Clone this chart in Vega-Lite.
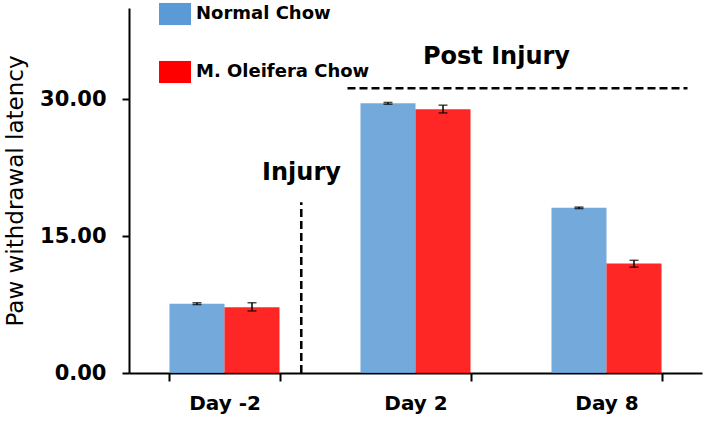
{
  "$schema": "https://vega.github.io/schema/vega-lite/v6.json",
  "width": 573,
  "height": 365,
  "autosize": "none",
  "padding": {"left": 129, "top": 8, "right": 4, "bottom": 53},
  "background": "white",
  "config": {
    "view": {"stroke": null},
    "font": "DejaVu Sans",
    "axis": {"grid": false, "domainColor": "black", "tickColor": "black", "labelColor": "black", "titleColor": "black", "labelFont": "DejaVu Sans", "titleFont": "DejaVu Sans"}
  },
  "datasets": {
    "bars": [
      {"day": "Day -2", "diet": "Normal Chow", "value": 7.6, "lo": 7.5, "hi": 7.7},
      {"day": "Day -2", "diet": "M. Oleifera Chow", "value": 7.2, "lo": 6.8, "hi": 7.7},
      {"day": "Day 2", "diet": "Normal Chow", "value": 29.55, "lo": 29.45, "hi": 29.65},
      {"day": "Day 2", "diet": "M. Oleifera Chow", "value": 28.9, "lo": 28.5, "hi": 29.35},
      {"day": "Day 8", "diet": "Normal Chow", "value": 18.1, "lo": 18.02, "hi": 18.18},
      {"day": "Day 8", "diet": "M. Oleifera Chow", "value": 12.0, "lo": 11.6, "hi": 12.35}
    ],
    "vlines": [{"xq": 0.902, "y": 0, "y2": 18.7}],
    "hlines": [{"xq": 1.144, "xq2": 2.924, "y": 31.2}],
    "labels": [
      {"xq": 0.903, "y": 21.1, "label": "Injury"},
      {"xq": 1.924, "y": 33.85, "label": "Post Injury"}
    ]
  },
  "layer": [
    {
      "data": {"name": "bars"},
      "encoding": {
        "x": {
          "field": "day", "type": "nominal", "sort": ["Day -2", "Day 2", "Day 8"],
          "scale": {"paddingInner": 0.424, "paddingOuter": 0.212},
          "axis": {"title": null, "labelAngle": 0, "labelFontSize": 20, "labelFontWeight": "bold", "tickBand": "extent", "tickSize": 8, "tickWidth": 2, "domainWidth": 2, "labelPadding": 12}
        },
        "xOffset": {"field": "diet", "type": "nominal", "sort": ["Normal Chow", "M. Oleifera Chow"], "scale": {"paddingInner": 0, "paddingOuter": 0}}
      },
      "layer": [
        {
          "mark": {"type": "bar", "fillOpacity": 0.85},
          "encoding": {
            "y": {
              "field": "value", "type": "quantitative",
              "scale": {"domain": [0, 40], "nice": false},
              "axis": {"title": "Paw withdrawal latency", "values": [0, 15, 30], "format": ".2f", "labelFontSize": 21, "labelFontWeight": "bold", "titleFontSize": 23, "titleFontWeight": "normal", "tickSize": 7, "tickWidth": 2, "domainWidth": 2, "labelPadding": 16, "titlePadding": 12}
            },
            "color": {
              "field": "diet", "type": "nominal", "sort": ["Normal Chow", "M. Oleifera Chow"],
              "scale": {"range": ["#5b9bd5", "#ff0000"]},
              "legend": {
                "title": null, "orient": "none", "legendX": 30, "legendY": -10,
                "symbolType": "M-1,-0.69L1,-0.69L1,0.69L-1,0.69Z", "symbolSize": 1024, "symbolStrokeWidth": 0, "symbolOpacity": 1,
                "labelFontSize": 18, "labelFontWeight": "bold", "labelColor": "black", "labelOffset": 5,
                "rowPadding": 30, "labelLimit": 300
              }
            }
          }
        },
        {
          "mark": {"type": "rule", "color": "black", "strokeWidth": 1.5},
          "encoding": {
            "y": {"field": "lo", "type": "quantitative"},
            "y2": {"field": "hi"}
          }
        },
        {
          "mark": {"type": "tick", "color": "black", "orient": "horizontal", "size": 9, "thickness": 1.5},
          "encoding": {"y": {"field": "lo", "type": "quantitative"}}
        },
        {
          "mark": {"type": "tick", "color": "black", "orient": "horizontal", "size": 9, "thickness": 1.5},
          "encoding": {"y": {"field": "hi", "type": "quantitative"}}
        }
      ]
    },
    {
      "layer": [
        {
          "data": {"name": "vlines"},
          "mark": {"type": "rule", "color": "black", "strokeWidth": 2.5, "strokeDash": [8, 4]},
          "encoding": {
            "x": {"field": "xq", "type": "quantitative", "scale": {"domain": [0, 3], "nice": false, "zero": false}, "axis": null},
            "y": {"field": "y", "type": "quantitative"},
            "y2": {"field": "y2"}
          }
        },
        {
          "data": {"name": "hlines"},
          "mark": {"type": "rule", "color": "black", "strokeWidth": 2.5, "strokeDash": [8, 4]},
          "encoding": {
            "x": {"field": "xq", "type": "quantitative"},
            "x2": {"field": "xq2"},
            "y": {"field": "y", "type": "quantitative"}
          }
        },
        {
          "data": {"name": "labels"},
          "mark": {"type": "text", "fontSize": 24, "fontWeight": "bold", "color": "black", "align": "center", "baseline": "alphabetic"},
          "encoding": {
            "x": {"field": "xq", "type": "quantitative"},
            "y": {"field": "y", "type": "quantitative"},
            "text": {"field": "label"}
          }
        }
      ]
    }
  ],
  "resolve": {"scale": {"x": "independent"}}
}
